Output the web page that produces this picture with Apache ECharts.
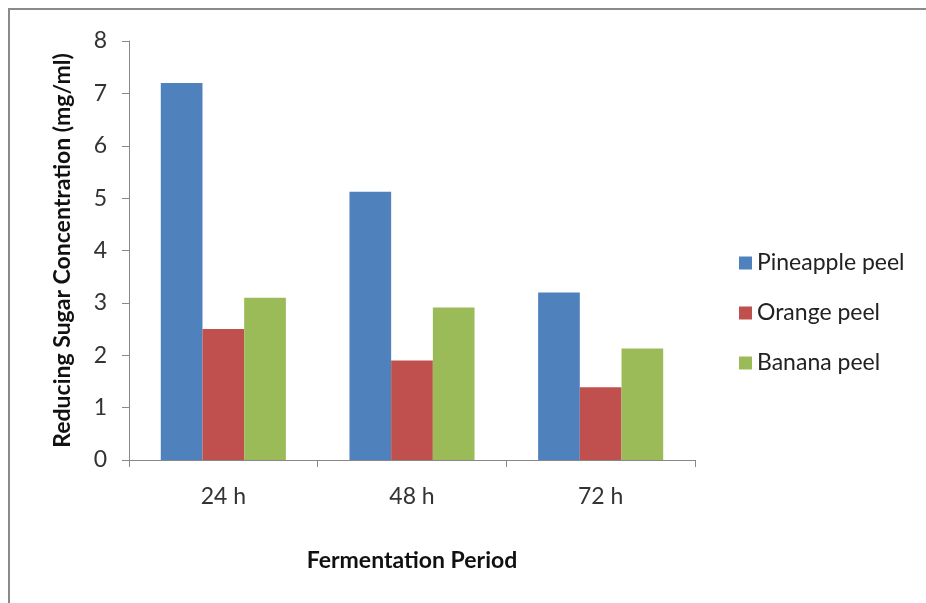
<!DOCTYPE html>
<html>
<head>
<meta charset="utf-8">
<script src="https://cdn.jsdelivr.net/npm/echarts@6/dist/echarts.min.js"></script>
<style>html,body{margin:0;padding:0;background:#fff;}#chart{width:926px;height:603px;}</style>
</head>
<body>
<div id="chart"></div>
<script>
var categories = ['24 h', '48 h', '72 h'];
var pineapple = [7.2, 5.12, 3.2];
var orange = [2.5, 1.9, 1.39];
var banana = [3.1, 2.91, 2.13];
var yTicks = [0, 1, 2, 3, 4, 5, 6, 7, 8];

var FONT = 'Lato, "Open Sans", sans-serif';
var chart = echarts.init(document.getElementById('chart'));
chart.setOption({
  animation: false,
  backgroundColor: '#fff',
  graphic: [{
    type: 'rect',
    shape: {x: 9, y: 9, width: 940, height: 620},
    style: {fill: 'none', stroke: '#8a8a8a', lineWidth: 2},
    silent: true
  }],
  grid: {left: 129, right: 231, top: 41, bottom: 143},
  legend: {
    orient: 'vertical',
    left: 734,
    top: 245,
    itemWidth: 13,
    itemHeight: 13,
    itemGap: 24,
    icon: 'rect',
    textStyle: {fontFamily: FONT, fontSize: 23, color: '#222', lineHeight: 26},
    data: ['Pineapple peel', 'Orange peel', 'Banana peel']
  },
  xAxis: {
    type: 'category',
    data: categories,
    name: 'Fermentation Period',
    nameLocation: 'middle',
    nameGap: 89,
    nameTextStyle: {fontFamily: FONT, fontSize: 23, fontWeight: 'bold', color: '#111'},
    axisLine: {lineStyle: {color: '#888', width: 1}},
    axisTick: {show: true, length: 7, lineStyle: {color: '#888'}},
    axisLabel: {fontFamily: FONT, fontSize: 23, color: '#333', margin: 25}
  },
  yAxis: {
    type: 'value',
    min: 0,
    max: 8,
    interval: 1,
    name: 'Reducing Sugar Concentration (mg/ml)',
    nameLocation: 'middle',
    nameGap: 55,
    nameTextStyle: {fontFamily: FONT, fontSize: 23, fontWeight: 'bold', color: '#111'},
    axisLine: {show: true, lineStyle: {color: '#888', width: 1}},
    axisTick: {show: true, length: 7, lineStyle: {color: '#888'}},
    splitLine: {show: false},
    axisLabel: {fontFamily: FONT, fontSize: 23, color: '#333', margin: 22,
      formatter: function (v) { return yTicks.indexOf(v) >= 0 ? String(v) : ''; }}
  },
  series: [
    {name: 'Pineapple peel', type: 'bar', data: pineapple, itemStyle: {color: '#4F81BD'}, barGap: '0%', barCategoryGap: '33.7%'},
    {name: 'Orange peel', type: 'bar', data: orange, itemStyle: {color: '#C0504D'}, barGap: '0%', barCategoryGap: '33.7%'},
    {name: 'Banana peel', type: 'bar', data: banana, itemStyle: {color: '#9BBB59'}, barGap: '0%', barCategoryGap: '33.7%'}
  ]
});
</script>
</body>
</html>
